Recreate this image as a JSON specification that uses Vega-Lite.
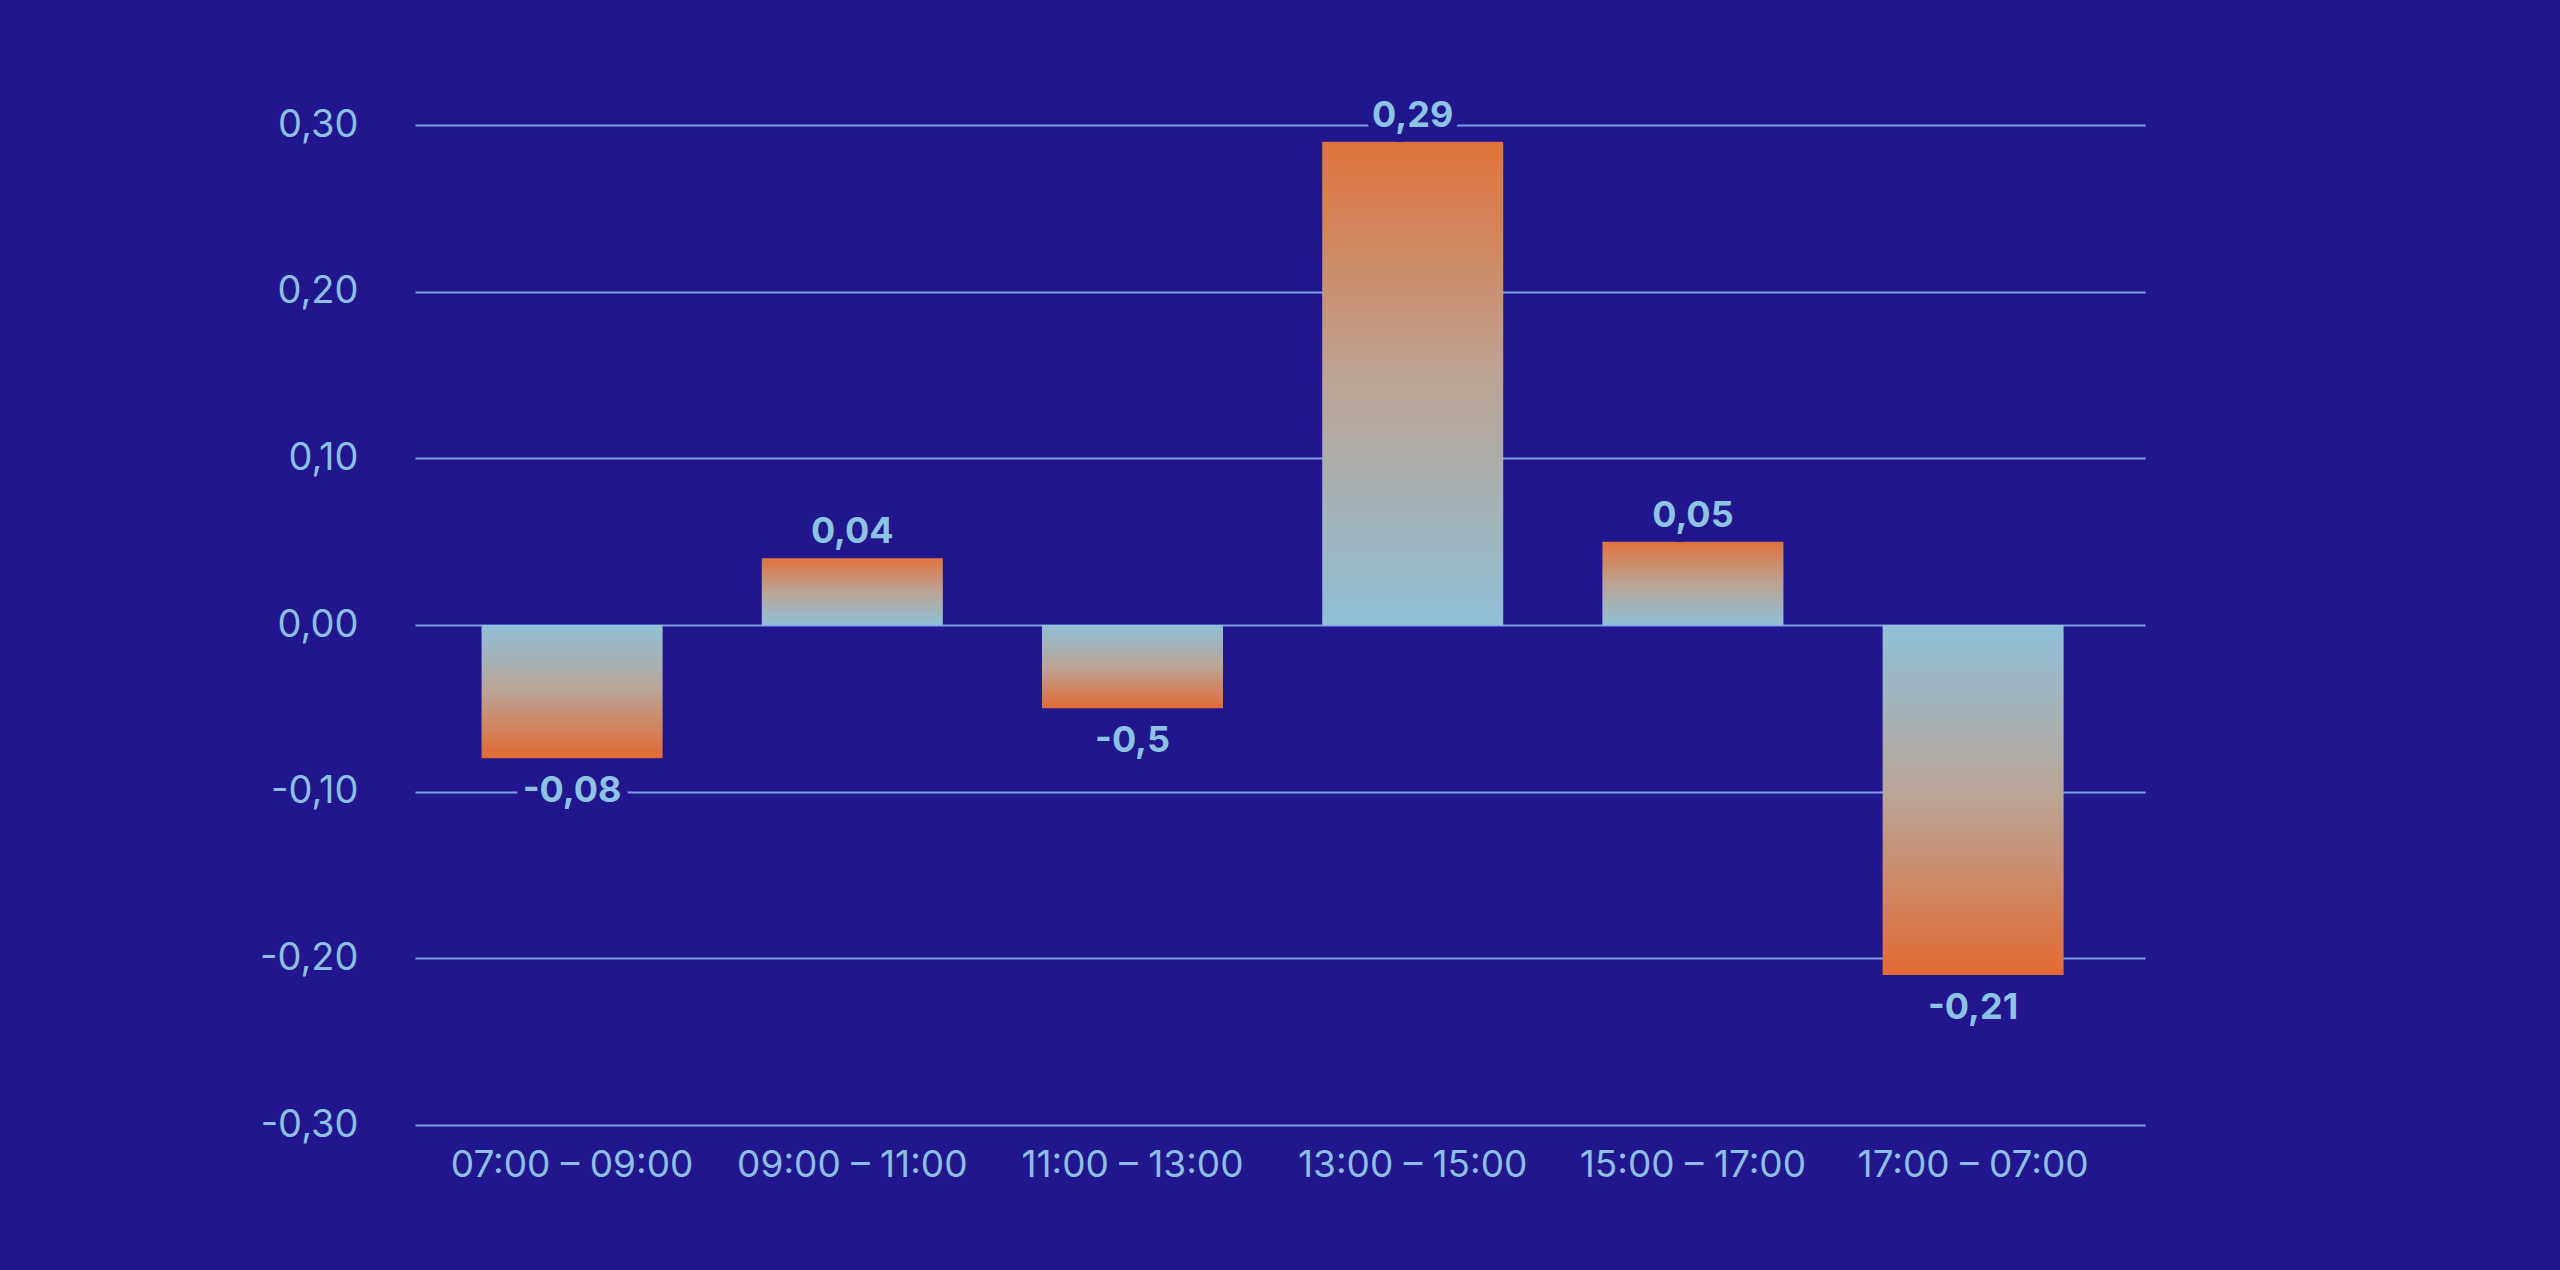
{
  "$schema": "https://vega.github.io/schema/vega-lite/v6.json",
  "autosize": "none",
  "width": 1730,
  "height": 1000,
  "padding": {"left": 415, "top": 125, "right": 415, "bottom": 145},
  "background": "#21168e",
  "config": {
    "view": {"stroke": null},
    "font": "Inter",
    "axis": {
      "labelFont": "Inter",
      "labelColor": "#8dbfe3",
      "labelFontWeight": 400,
      "labelLimit": 0,
      "domain": false,
      "ticks": false,
      "gridColor": "#7d9fe6",
      "gridWidth": 2,
      "gridOpacity": 1
    }
  },
  "data": {
    "values": [
      {"slot": "07:00 – 09:00", "value": -0.08, "label": "-0,08"},
      {"slot": "09:00 – 11:00", "value": 0.04, "label": "0,04"},
      {"slot": "11:00 – 13:00", "value": -0.05, "label": "-0,5"},
      {"slot": "13:00 – 15:00", "value": 0.29, "label": "0,29"},
      {"slot": "15:00 – 17:00", "value": 0.05, "label": "0,05"},
      {"slot": "17:00 – 07:00", "value": -0.21, "label": "-0,21"}
    ]
  },
  "encoding": {
    "x": {
      "field": "slot",
      "type": "nominal",
      "sort": ["07:00 – 09:00", "09:00 – 11:00", "11:00 – 13:00", "13:00 – 15:00", "15:00 – 17:00", "17:00 – 07:00"],
      "title": null,
      "scale": {"paddingInner": 0.354, "paddingOuter": 0.264, "align": 0.45},
      "axis": {"labelAngle": 0, "labelFontSize": 37, "labelPadding": 22, "grid": false}
    },
    "y": {
      "field": "value",
      "type": "quantitative",
      "title": null,
      "scale": {"domain": [-0.3, 0.3], "nice": false, "zero": false},
      "axis": {
        "values": [-0.3, -0.2, -0.1, 0, 0.1, 0.2, 0.3],
        "labelExpr": "replace(replace(format(datum.value, '.2f'), '.', ','), '−', '-')",
        "labelFontSize": 38,
        "labelPadding": 57,
        "labelAlign": "right",
        "grid": true
      }
    }
  },
  "layer": [
    {
      "transform": [{"filter": "datum.value > 0"}],
      "mark": {
        "type": "bar",
        "fill": {
          "gradient": "linear",
          "x1": 0, "y1": 1, "x2": 0, "y2": 0,
          "stops": [
            {"offset": 0, "color": "#8fc0d8"},
            {"offset": 0.5, "color": "#bba495"},
            {"offset": 1, "color": "#e0733c"}
          ]
        }
      },
      "encoding": {"y2": {"datum": 0}}
    },
    {
      "transform": [{"filter": "datum.value < 0"}],
      "mark": {
        "type": "bar",
        "fill": {
          "gradient": "linear",
          "x1": 0, "y1": 0, "x2": 0, "y2": 1,
          "stops": [
            {"offset": 0, "color": "#8fc0d8"},
            {"offset": 0.5, "color": "#bba495"},
            {"offset": 1, "color": "#e26a33"}
          ]
        }
      },
      "encoding": {"y2": {"datum": 0}}
    },
    {
      "transform": [{"filter": "datum.value > 0"}],
      "mark": {
        "type": "text",
        "font": "Inter",
        "fontSize": 36,
        "fontWeight": 700,
        "baseline": "middle",
        "dy": -26,
        "stroke": "#21168e",
        "strokeWidth": 16,
        "strokeJoin": "round",
        "fill": "#21168e"
      },
      "encoding": {"text": {"field": "label"}}
    },
    {
      "transform": [{"filter": "datum.value < 0"}],
      "mark": {
        "type": "text",
        "font": "Inter",
        "fontSize": 36,
        "fontWeight": 700,
        "baseline": "middle",
        "dy": 33,
        "stroke": "#21168e",
        "strokeWidth": 16,
        "strokeJoin": "round",
        "fill": "#21168e"
      },
      "encoding": {"text": {"field": "label"}}
    },
    {
      "transform": [{"filter": "datum.value > 0"}],
      "mark": {
        "type": "text",
        "font": "Inter",
        "fontSize": 36,
        "fontWeight": 700,
        "baseline": "middle",
        "dy": -26,
        "fill": "#8dc3e3"
      },
      "encoding": {"text": {"field": "label"}}
    },
    {
      "transform": [{"filter": "datum.value < 0"}],
      "mark": {
        "type": "text",
        "font": "Inter",
        "fontSize": 36,
        "fontWeight": 700,
        "baseline": "middle",
        "dy": 33,
        "fill": "#8dc3e3"
      },
      "encoding": {"text": {"field": "label"}}
    }
  ]
}
